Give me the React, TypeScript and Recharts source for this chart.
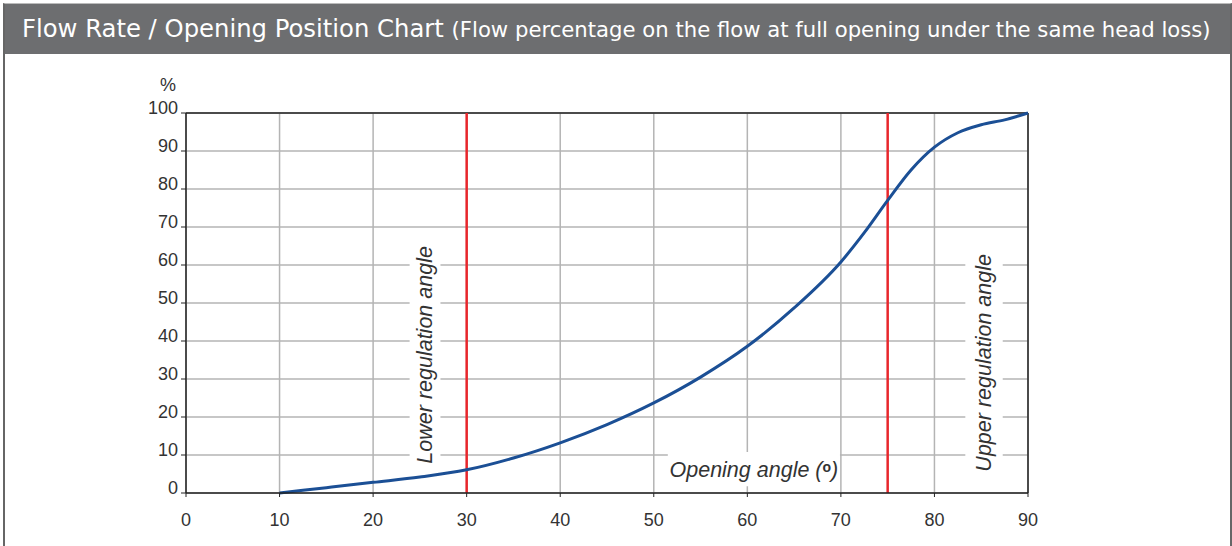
import React from "react";
import {
  LineChart,
  Line,
  XAxis,
  YAxis,
  CartesianGrid,
  ReferenceLine,
  ReferenceArea,
} from "recharts";

// opening angle (deg) vs flow (% of flow at full opening)
const angles = [10, 15, 20, 25, 30, 35, 40, 45, 50, 55, 60, 65, 70, 72.5, 75, 77.5, 80, 82.5, 85, 87.5, 90];
const flow = [0, 1.4, 2.8, 4.2, 6.1, 9.2, 13.2, 18, 23.7, 30.5, 38.6, 48.7, 60.8, 68.5, 77, 85, 91, 94.8, 96.9, 98.2, 100];
const xTicks = [0, 10, 20, 30, 40, 50, 60, 70, 80, 90];
const yTicks = [0, 10, 20, 30, 40, 50, 60, 70, 80, 90, 100];
const lowerAngle = 30;
const upperAngle = 75;

const data = angles.map((a, i) => ({ angle: a, flow: flow[i] }));

const tickFont = "'Liberation Sans', Arial, sans-serif";

const XTick = (props: any) => {
  const { x, y, payload } = props;
  return (
    <text x={x} y={y + 29} textAnchor="middle" fontSize={18} fill="#333" fontFamily={tickFont}>
      {payload.value}
    </text>
  );
};

const YTick = (props: any) => {
  const { x, y, payload } = props;
  return (
    <text x={x} y={y + 1} textAnchor="end" fontSize={18} fill="#333" fontFamily={tickFont}>
      {payload.value}
    </text>
  );
};

const VLabel = (props: any) => {
  const { viewBox, text } = props;
  const cx = viewBox.x + viewBox.width / 2;
  const cy = viewBox.y + viewBox.height / 2;
  return (
    <text
      x={cx}
      y={cy}
      transform={`rotate(-90 ${cx} ${cy})`}
      textAnchor="middle"
      dominantBaseline="central"
      fontSize={21.5}
      fontStyle="italic"
      fill="#333"
      fontFamily={tickFont}
    >
      {text}
    </text>
  );
};

const AngleLabel = (props: any) => {
  const { viewBox } = props;
  const cx = viewBox.x + viewBox.width / 2;
  const cy = viewBox.y + viewBox.height / 2;
  return (
    <text x={cx} y={cy + 8} textAnchor="middle" fontSize={21.5} fontStyle="italic" fill="#333" fontFamily={tickFont}>
      Opening angle (
      <tspan fontStyle="normal" fontWeight="bold" fontSize={14} dy={-5}>o</tspan>
      <tspan dy={5}>)</tspan>
    </text>
  );
};

const PercentLabel = (props: any) => {
  const { viewBox } = props;
  return (
    <text x={viewBox.x + viewBox.width - 18} y={viewBox.y - 22} textAnchor="middle" fontSize={18} fill="#333" fontFamily={tickFont}>
      %
    </text>
  );
};

const App = () => {
  return (
    <div style={{ position: "absolute", left: 0, top: 0, width: 1232, height: 546, background: "#fff", overflow: "hidden" }}>
      <div
        style={{
          position: "absolute",
          left: 3,
          top: 3,
          width: 1225,
          height: 560,
          borderTop: "1px solid #bbb",
          borderLeft: "2px solid #666",
          borderRight: "2px solid #666",
        }}
      />
      <div
        style={{
          position: "absolute",
          left: 5,
          top: 4,
          width: 1225,
          height: 50,
          background: "#6d6e70",
          color: "#fff",
          fontFamily: "'DejaVu Sans', Verdana, sans-serif",
          whiteSpace: "nowrap",
          lineHeight: "50px",
        }}
      >
        <span style={{ position: "absolute", left: 17, top: 0, fontSize: 24.3 }}>
          Flow Rate / Opening Position Chart{" "}
          <span style={{ fontSize: 21.2 }}>(Flow percentage on the flow at full opening under the same head loss)</span>
        </span>
      </div>
      <div style={{ position: "absolute", left: 0, top: 0 }}>
        <LineChart
          width={1232}
          height={546}
          data={data}
          margin={{ top: 113, right: 204, bottom: 23, left: 126 }}
        >
          <CartesianGrid stroke="#b4b4b4" strokeWidth={1.5} />
          <ReferenceArea x1={23.9} x2={27.2} y1={6.6} y2={66.1} fill="#fff" fillOpacity={1} stroke="none" label={<VLabel text="Lower regulation angle" />} />
          <ReferenceArea x1={83.3} x2={87.3} y1={3.2} y2={65.3} fill="#fff" fillOpacity={1} stroke="none" label={<VLabel text="Upper regulation angle" />} />
          <ReferenceArea x1={51.5} x2={69.9} y1={1.8} y2={10.8} fill="#fff" fillOpacity={1} stroke="none" label={<AngleLabel />} />
          <XAxis
            dataKey="angle"
            type="number"
            domain={[0, 90]}
            ticks={xTicks}
            height={30}
            tickSize={4}
            tickMargin={0}
            axisLine={{ stroke: "#222", strokeWidth: 1.5 }}
            tickLine={{ stroke: "#222" }}
            tick={<XTick />}
          />
          <YAxis
            type="number"
            domain={[0, 100]}
            ticks={yTicks}
            width={60}
            tickSize={5}
            tickMargin={3}
            axisLine={{ stroke: "#222", strokeWidth: 1.5 }}
            tickLine={{ stroke: "#222" }}
            tick={<YTick />}
            label={<PercentLabel />}
          />
          <ReferenceLine y={100} stroke="#222" strokeWidth={1.5} />
          <ReferenceLine x={90} stroke="#222" strokeWidth={1.5} />
          <ReferenceLine x={lowerAngle} stroke="#e8262b" strokeWidth={2.5} />
          <ReferenceLine x={upperAngle} stroke="#e8262b" strokeWidth={2.5} />
          <Line
            type="monotone"
            dataKey="flow"
            stroke="#1b4f95"
            strokeWidth={3}
            dot={false}
            isAnimationActive={false}
          />
        </LineChart>
      </div>
    </div>
  );
};

export default App;
